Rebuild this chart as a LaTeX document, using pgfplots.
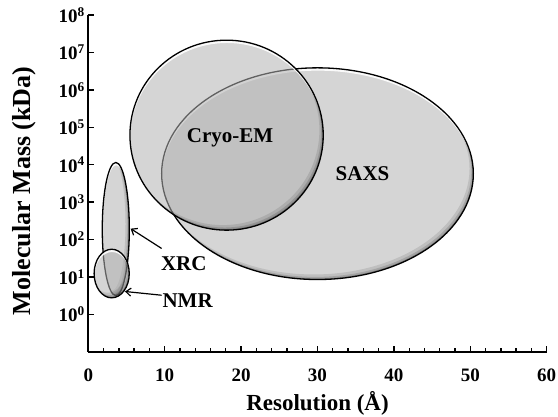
\documentclass[border=0pt]{standalone}
\usepackage{fontspec}
\setmainfont{Liberation Serif}
\usepackage{pgfplots}
\pgfplotsset{compat=1.18}
\usetikzlibrary{arrows.meta}
\definecolor{fillA}{gray}{0.835}
\definecolor{fillB}{gray}{0.70}
\newcommand{\lab}{\bfseries\fontsize{21}{21}\selectfont}
% #1 fill colour, #2 cx, #3 cy, #4 rx, #5 ry, #6 opacity
\newcommand{\blob}[6]{%
  \fill[#1, fill opacity=#6] (axis cs:#2,#3) ellipse [x radius=#4, y radius=#5];
  \begin{scope}
    \clip (axis cs:#2,#3) ellipse [x radius=#4, y radius=#5];
    \fill[black, even odd rule, fill opacity=0.10] (axis cs:#2,#3) ellipse [x radius=#4, y radius=#5] (axis cs:#2-0.50,#3+0.135) ellipse [x radius=#4, y radius=#5];
    \fill[black, even odd rule, fill opacity=0.14] (axis cs:#2,#3) ellipse [x radius=#4, y radius=#5] (axis cs:#2-0.26,#3+0.07) ellipse [x radius=#4, y radius=#5];
    \fill[black, even odd rule, fill opacity=0.18] (axis cs:#2,#3) ellipse [x radius=#4, y radius=#5] (axis cs:#2-0.11,#3+0.03) ellipse [x radius=#4, y radius=#5];
    \fill[white, even odd rule, fill opacity=0.9] (axis cs:#2,#3) ellipse [x radius=#4, y radius=#5] (axis cs:#2+0.05,#3-0.075) ellipse [x radius=#4, y radius=#5];
  \end{scope}
  \draw[black, line width=1.3pt] (axis cs:#2,#3) ellipse [x radius=#4, y radius=#5];
}
\begin{document}
\begin{tikzpicture}
\begin{axis}[
  width=458.4pt, height=336.6pt, scale only axis,
  xmin=0, xmax=60, ymin=-1, ymax=8,
  axis lines=left,
  axis line style={-, line width=1.8pt},
  xtick={0,10,20,30,40,50,60},
  xticklabels={0,10,20,30,40,50,60},
  minor x tick num=4,
  ytick={0,1,2,3,4,5,6,7,8},
  yticklabels={10\textsuperscript{0},10\textsuperscript{1},10\textsuperscript{2},10\textsuperscript{3},10\textsuperscript{4},10\textsuperscript{5},10\textsuperscript{6},10\textsuperscript{7},10\textsuperscript{8}},
  tick align=inside,
  major tick length=6pt, minor tick length=3.5pt,
  every tick/.style={black, line width=1.3pt},
  ticklabel style={font=\bfseries\fontsize{19}{19}\selectfont},
  xticklabel style={anchor=base, yshift=-30pt},
  xlabel={Resolution (Å)}, ylabel={Molecular Mass (kDa)},
  xlabel style={font=\bfseries\fontsize{23}{23}\selectfont, at={(axis description cs:0.5,0)}, anchor=base, yshift=-58.5pt},
  ylabel style={font=\bfseries\fontsize{26}{26}\selectfont, at={(axis description cs:-0.139,0.478)}, anchor=center},
]
% SAXS
\blob{fillA}{30.0}{3.76}{20.4}{2.83}{1}
% Cryo-EM
\blob{fillB}{18.1}{4.79}{12.65}{2.54}{0.55}
% XRC
\blob{fillA}{3.6}{2.28}{1.77}{1.78}{1}
% NMR
\blob{fillB}{3.06}{1.09}{2.3}{0.65}{0.55}
% labels
\node[font=\lab] at (axis cs:18.55,4.72) {Cryo-EM};
\node[font=\lab] at (axis cs:35.9,3.76) {SAXS};
\node[font=\lab] at (axis cs:12.5,1.36) {XRC};
\node[font=\lab] at (axis cs:13.0,0.37) {NMR};
\draw[-{Straight Barb[length=5pt,width=8pt]}, line width=1.2pt] (axis cs:9.6,1.76) -- (axis cs:5.55,2.29);
\draw[-{Straight Barb[length=5pt,width=8pt]}, line width=1.2pt] (axis cs:9.6,0.51) -- (axis cs:4.8,0.61);
\end{axis}
\pgfresetboundingbox
\path (-88.3pt,-64.3pt) rectangle (469.7pt,351.7pt);
\end{tikzpicture}
\end{document}
